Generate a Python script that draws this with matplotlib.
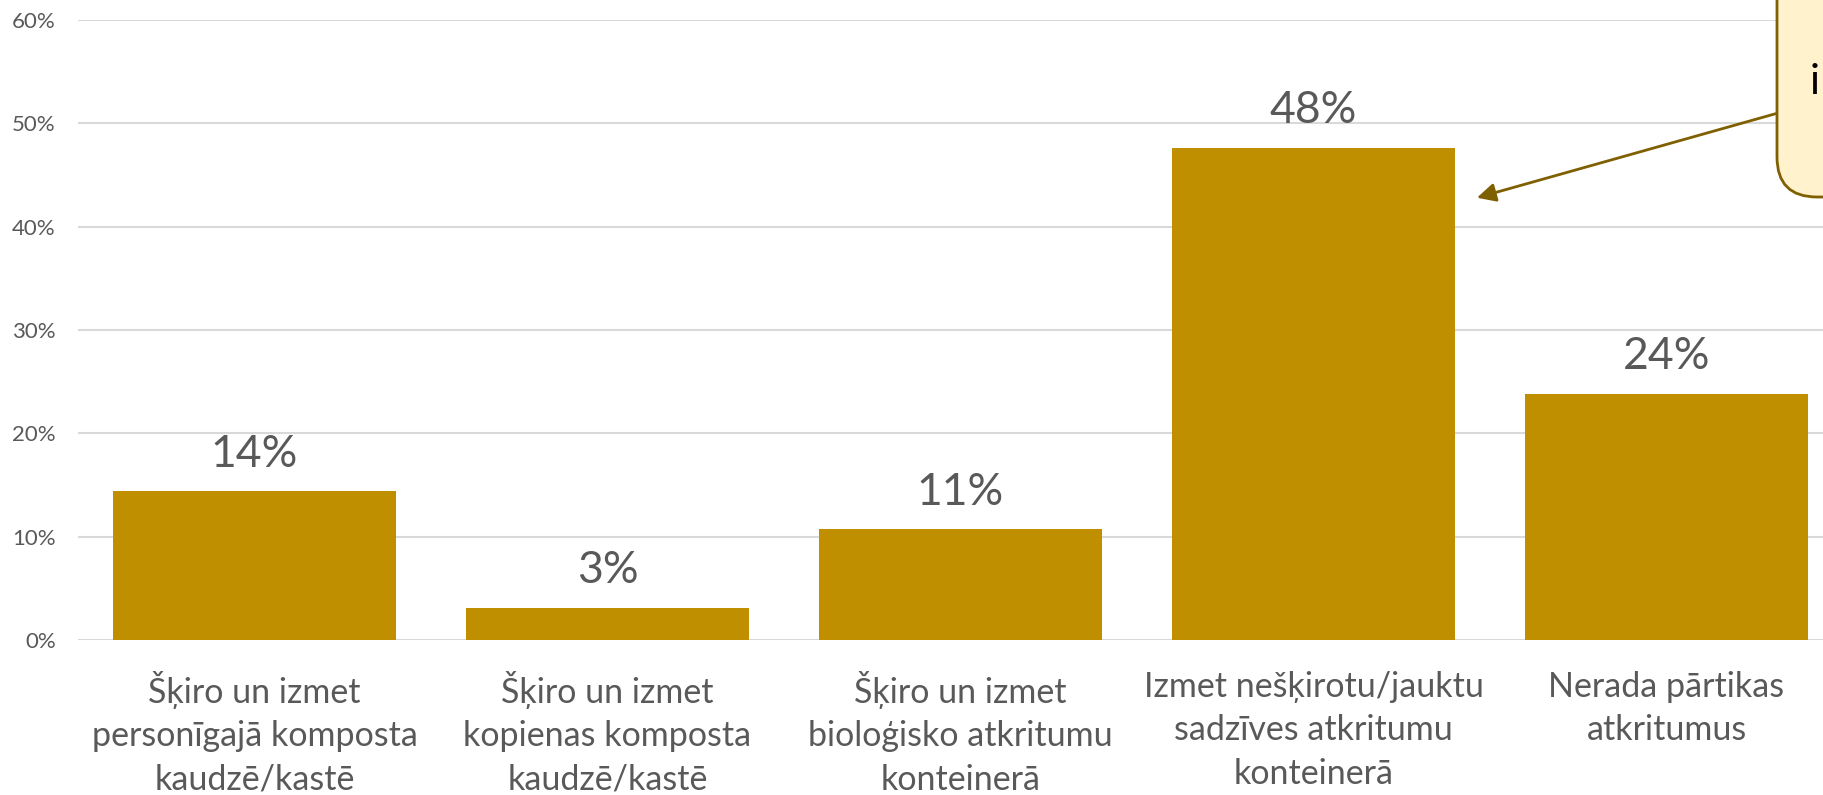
import numpy as np
import matplotlib.pyplot as plt
from matplotlib.patches import FancyBboxPatch

plt.rcParams['font.family'] = ['Lato', 'DejaVu Sans']

categories = ["Šķiro un izmet\npersonīgajā komposta\nkaudzē/kastē",
              "Šķiro un izmet\nkopienas komposta\nkaudzē/kastē",
              "Šķiro un izmet\nbioloģisko atkritumu\nkonteinerā",
              "Izmet nešķirotu/jauktu\nsadzīves atkritumu\nkonteinerā",
              "Nerada pārtikas\natkritumus"]
values = [0.144, 0.031, 0.107, 0.476, 0.238]
yticks = [0, 0.1, 0.2, 0.3, 0.4, 0.5, 0.6]

bar_color = "#BF8F00"
text_gray = "#595959"

fig = plt.figure(figsize=(18.24, 7.95), dpi=100)
# plot area runs past the right edge (picture is cropped there)
ax = fig.add_axes([78/1824, 155/795, 1765/1824, 620/795])

x = np.arange(len(categories))
bars = ax.bar(x, values, width=0.8, color=bar_color, zorder=2)

for b, v in zip(bars, values):
    ax.annotate(f"{round(v*100):.0f}%", (b.get_x() + b.get_width()/2, v),
                xytext=(0, 12), textcoords="offset points",
                ha="center", va="bottom", fontsize=32, color=text_gray)

ax.set_xlim(-0.5, 4.5)
ax.set_ylim(0, 0.6)
ax.set_yticks(yticks)
ax.set_yticklabels([f"{int(round(t*100))}%" for t in yticks])
ax.set_xticks(x)
ax.set_xticklabels(categories, fontsize=24.5, color=text_gray, linespacing=1.45)
ax.tick_params(axis="y", length=0, pad=16, labelsize=16, labelcolor=text_gray)
ax.tick_params(axis="x", length=0, pad=22)
ax.grid(axis="y", color="#D9D9D9", linewidth=1.5, zorder=0)
ax.set_axisbelow(True)
for s in ax.spines.values():
    s.set_visible(False)

# callout box (cut off at the top right corner of the picture)
box = FancyBboxPatch((17.77, 5.98), 1.5, 3.0,
                     boxstyle="round,pad=0,rounding_size=0.4",
                     transform=fig.dpi_scale_trans,
                     facecolor="#FFF2CC", edgecolor="#7F6000",
                     linewidth=2, clip_on=False, zorder=5)
fig.patches.append(box)
fig.text(18.10/18.24, 1 - 82/795, "i", fontsize=30, color="black",
         ha="left", va="center", zorder=6)

ax.annotate("", xy=(3.463, 0.428), xytext=(4.313, 0.5097),
            arrowprops=dict(arrowstyle="-|>", color="#7F6000", lw=2,
                            mutation_scale=28, shrinkA=0, shrinkB=0),
            annotation_clip=False, zorder=4)

fig.savefig("out.png", dpi=100)
